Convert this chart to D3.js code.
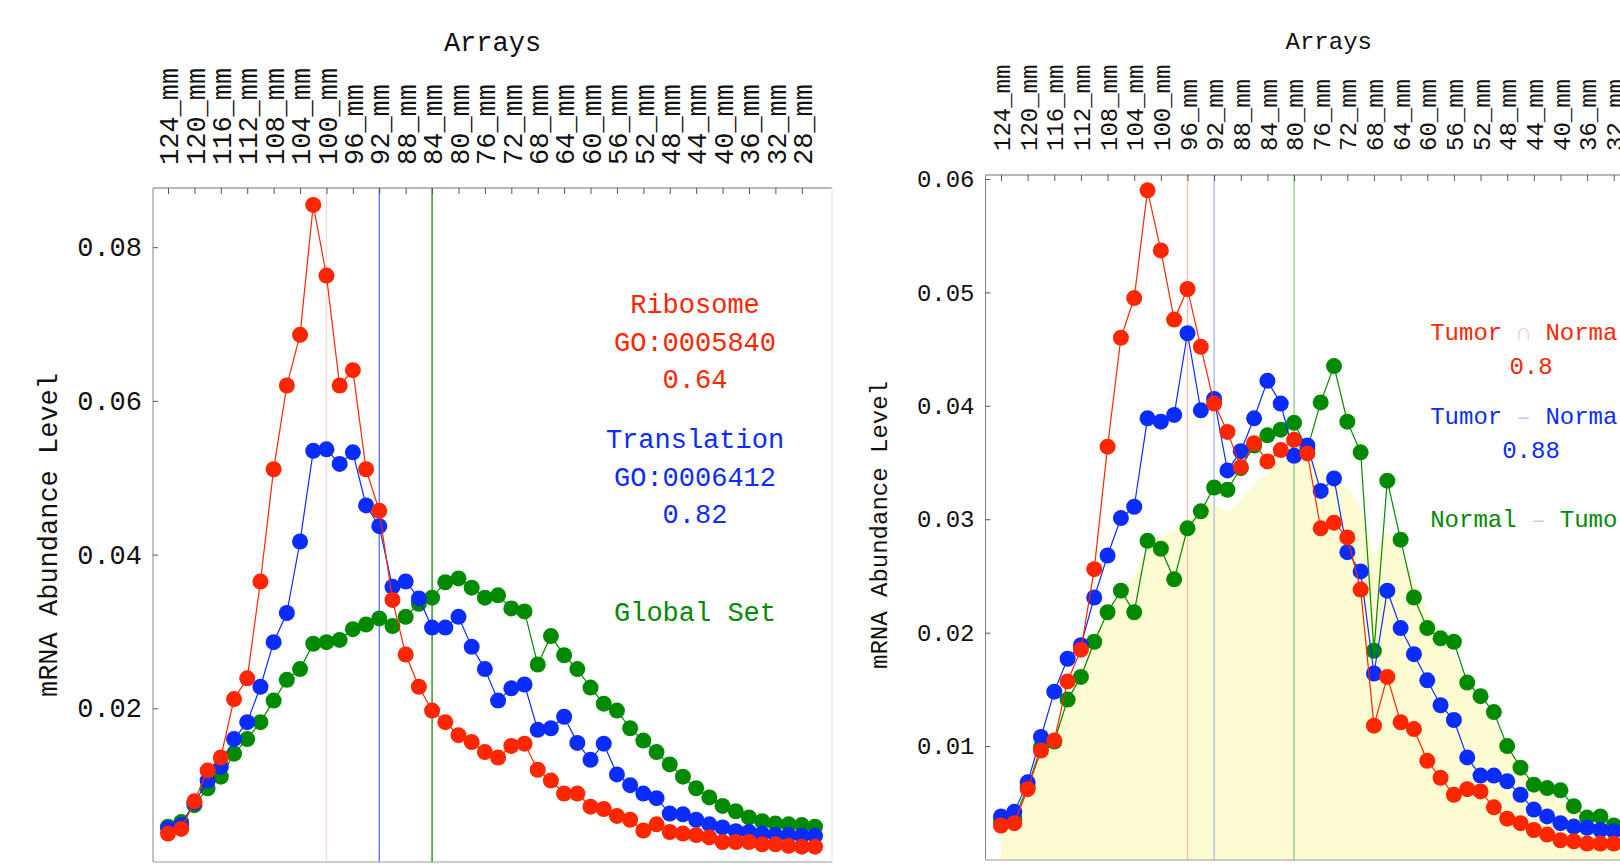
<!DOCTYPE html>
<html>
<head>
    <meta charset="utf-8" />
    <title>mRNA Abundance Level by array</title>
    <style>
        html, body {
            margin: 0;
            padding: 0;
            background-color: #fff;
        }
        svg {
            display: block;
            font-family: 'Liberation Mono', 'Courier New', monospace;
        }
    </style>
</head>
<body>
    <div class="canvas"></div>
    <script src="https://d3js.org/d3.v7.min.js"></script>
    <script>
        // arrays, one point every 2 mm, labelled every 4 mm
        var categories = ["124_mm","122_mm","120_mm","118_mm","116_mm","114_mm","112_mm","110_mm","108_mm","106_mm",
                          "104_mm","102_mm","100_mm","98_mm","96_mm","94_mm","92_mm","90_mm","88_mm","86_mm",
                          "84_mm","82_mm","80_mm","78_mm","76_mm","74_mm","72_mm","70_mm","68_mm","66_mm",
                          "64_mm","62_mm","60_mm","58_mm","56_mm","54_mm","52_mm","50_mm","48_mm","46_mm",
                          "44_mm","42_mm","40_mm","38_mm","36_mm","34_mm","32_mm","30_mm","28_mm","26_mm"];
        var tickLabels = ["124_mm","120_mm","116_mm","112_mm","108_mm","104_mm","100_mm","96_mm","92_mm","88_mm",
                          "84_mm","80_mm","76_mm","72_mm","68_mm","64_mm","60_mm","56_mm","52_mm","48_mm",
                          "44_mm","40_mm","36_mm","32_mm","28_mm"];

        // left chart: Ribosome / Translation / Global Set
        var ribosome = [0.0037,0.0043,0.0079,0.0119,0.0136,0.0212,0.0239,0.0365,0.0511,0.0620,
                        0.0686,0.0855,0.0763,0.0620,0.0640,0.0511,0.0457,0.0341,0.0270,0.0228,
                        0.0197,0.0182,0.0165,0.0156,0.0143,0.0136,0.0151,0.0154,0.0120,0.0106,
                        0.0089,0.0089,0.0072,0.0069,0.0060,0.0055,0.0041,0.0049,0.0039,0.0037,
                        0.0035,0.0032,0.0026,0.0026,0.0026,0.0023,0.0023,0.0021,0.0020,0.0020];
        var translation = [0.0044,0.0048,0.0077,0.0106,0.0124,0.0160,0.0182,0.0228,0.0286,0.0324,
                           0.0417,0.0535,0.0537,0.0518,0.0533,0.0464,0.0437,0.0358,0.0365,0.0343,
                           0.0305,0.0305,0.0319,0.0280,0.0251,0.0210,0.0226,0.0231,0.0172,0.0174,
                           0.0189,0.0155,0.0133,0.0154,0.0114,0.0100,0.0089,0.0083,0.0063,0.0062,
                           0.0055,0.0049,0.0045,0.0040,0.0039,0.0037,0.0035,0.0035,0.0034,0.0034];
        var globalSet = [0.0046,0.0052,0.0074,0.0096,0.0111,0.0141,0.0160,0.0182,0.0210,0.0237,
                         0.0251,0.0284,0.0286,0.0289,0.0303,0.0309,0.0317,0.0307,0.0319,0.0336,
                         0.0344,0.0364,0.0369,0.0357,0.0344,0.0347,0.0330,0.0326,0.0257,0.0294,
                         0.0269,0.0251,0.0227,0.0206,0.0197,0.0174,0.0158,0.0143,0.0127,0.0111,
                         0.0096,0.0084,0.0073,0.0066,0.0058,0.0053,0.0050,0.0049,0.0048,0.0046];
        var leftMeans = ["100_mm", "92_mm", "84_mm"];
        var leftLegend = [["Ribosome", "GO:0005840", "0.64"], ["Translation", "GO:0006412", "0.82"], ["Global Set"]];

        // right chart: Tumor ∩ Normal / Tumor – Normal / Normal – Tumor, shaded global set
        var both = [0.0030,0.0032,0.0062,0.0096,0.0105,0.0157,0.0185,0.0256,0.0364,0.0460,
                    0.0495,0.0590,0.0537,0.0476,0.0503,0.0452,0.0402,0.0377,0.0346,0.0367,
                    0.0351,0.0361,0.0370,0.0358,0.0292,0.0297,0.0284,0.0238,0.0118,0.0161,
                    0.0121,0.0115,0.0087,0.0072,0.0057,0.0062,0.0060,0.0046,0.0036,0.0032,
                    0.0026,0.0022,0.0017,0.0016,0.0014,0.0014,0.0014];
        var tumorOnly = [0.0038,0.0042,0.0068,0.0108,0.0148,0.0177,0.0189,0.0231,0.0268,0.0301,
                         0.0311,0.0389,0.0386,0.0392,0.0464,0.0396,0.0406,0.0343,0.0360,0.0389,
                         0.0422,0.0402,0.0356,0.0365,0.0325,0.0336,0.0271,0.0254,0.0164,0.0237,
                         0.0204,0.0181,0.0158,0.0136,0.0123,0.0090,0.0074,0.0074,0.0069,0.0057,
                         0.0044,0.0038,0.0032,0.0029,0.0028,0.0026,0.0025];
        var normalOnly = [0.0033,0.0036,0.0064,0.0099,0.0104,0.0141,0.0161,0.0192,0.0218,0.0237,
                          0.0218,0.0281,0.0274,0.0247,0.0292,0.0307,0.0328,0.0326,0.0345,0.0365,
                          0.0374,0.0379,0.0385,0.0362,0.0403,0.0435,0.0386,0.0359,0.0184,0.0334,
                          0.0282,0.0231,0.0204,0.0195,0.0192,0.0156,0.0144,0.0130,0.0100,0.0081,
                          0.0066,0.0063,0.0061,0.0047,0.0037,0.0038,0.0030];
        var shaded = [0.0035,0.0045,0.0068,0.0095,0.0115,0.0140,0.0165,0.0195,0.0220,0.0235,
                      0.0250,0.0278,0.0285,0.0290,0.0298,0.0312,0.0314,0.0306,0.0317,0.0330,
                      0.0341,0.0352,0.0355,0.0352,0.0343,0.0332,0.0327,0.0310,0.0268,0.0290,
                      0.0272,0.0245,0.0220,0.0200,0.0180,0.0160,0.0140,0.0120,0.0100,0.0083,
                      0.0068,0.0060,0.0052,0.0046,0.0040,0.0036,0.0033,0.0031];
        var rightMeans = ["96_mm", "92_mm", "80_mm"];
        var rightLegend = [["Tumor ∩ Normal", "0.8"], ["Tumor – Normal", "0.88"], ["Normal – Tumor"]];

        var leftTicks = [0.02, 0.04, 0.06, 0.08];
        var rightTicks = [0.01, 0.02, 0.03, 0.04, 0.05, 0.06];

        var colors = ["#ff2600", "#0a2cff", "#008a00"];

        var width = 1620, height = 867;
        var svg = d3.select(".canvas").append("svg")
                    .attr("width", width)
                    .attr("height", height);

        var panels = [
            {
                left: 153, right: 832, top: 188, bottom: 862,
                xRange: [168, 815], yDomain: [0, 0.0877], yRange: [862, 188],
                font: 27, r: 8, labelGap: 23, titleY: 51, yTitleX: 57, yTitleY: 535,
                series: [globalSet, translation, ribosome],
                means: leftMeans, meanColors: ["#ffd8d8", "#5d70ff", "#0c8c0c"],
                yTicks: leftTicks, legend: leftLegend, legendX: 695,
                legendY: [313, 448, 621], lineStep: 37.5
            },
            {
                left: 985.5, right: 1672, top: 175, bottom: 860,
                xRange: [1001, 1653.7], yDomain: [0, 0.06035], yRange: [859.5, 175],
                font: 24, r: 8, labelGap: 24, titleY: 49, yTitleX: 887, yTitleY: 525,
                series: [normalOnly, tumorOnly, both], fill: shaded,
                means: rightMeans, meanColors: ["#ffbcae", "#aab6ee", "#88c888"],
                yTicks: rightTicks, legend: rightLegend, legendX: 1531,
                legendY: [340, 424, 527], lineStep: 33.5
            }
        ];

        panels.forEach(function(p) {
            var x = d3.scalePoint().domain(categories).range(p.xRange);
            var y = d3.scaleLinear().domain(p.yDomain).range(p.yRange);
            var g = svg.append("g");

            // shaded reference set
            if (p.fill) {
                var area = d3.area()
                    .x(function(d, i) { return x(categories[i]); })
                    .y0(p.bottom)
                    .y1(function(d) { return y(d); });
                g.append("path")
                    .datum(p.fill)
                    .attr("d", area)
                    .attr("fill", "#fcfbd2");
            }

            // mean position lines
            g.selectAll(".mean")
                .data(p.means)
                .join("line")
                .attr("x1", function(d) { return x(d); })
                .attr("x2", function(d) { return x(d); })
                .attr("y1", p.top)
                .attr("y2", p.bottom)
                .attr("stroke", function(d, i) { return p.meanColors[i]; })
                .attr("stroke-width", 1.3);

            // frame
            g.append("line").attr("x1", p.left).attr("x2", p.right).attr("y1", p.top).attr("y2", p.top)
                .attr("stroke", "#707070");
            g.append("line").attr("x1", p.left).attr("x2", p.left).attr("y1", p.top).attr("y2", p.bottom)
                .attr("stroke", "#858585");
            g.append("line").attr("x1", p.left).attr("x2", p.right).attr("y1", p.bottom).attr("y2", p.bottom)
                .attr("stroke", "#9a9a9a");
            g.append("line").attr("x1", p.right).attr("x2", p.right).attr("y1", p.top).attr("y2", p.bottom)
                .attr("stroke", "#dddddd");

            // top axis with vertical labels
            var top = g.append("g")
                .attr("transform", "translate(0," + p.top + ")")
                .call(d3.axisTop(x).tickValues(tickLabels).tickSize(-6).tickPadding(p.labelGap));
            top.select(".domain").remove();
            top.selectAll(".tick line").attr("stroke", "#555");
            top.selectAll(".tick text")
                .attr("font-family", "'Liberation Mono', 'Courier New', monospace")
                .attr("font-size", p.font)
                .attr("fill", "#111")
                .attr("text-anchor", "start")
                .attr("transform", "rotate(-90)")
                .attr("x", p.labelGap)
                .attr("y", 0)
                .attr("dy", "0.36em");

            svg.append("text")
                .attr("x", (p.left + p.right) / 2 - (p.right > width ? 0 : 0))
                .attr("y", p.titleY)
                .attr("text-anchor", "middle")
                .attr("font-size", p.font)
                .attr("fill", "#111")
                .text("Arrays");

            // left axis
            var left = g.append("g")
                .attr("transform", "translate(" + p.left + ",0)")
                .call(d3.axisLeft(y).tickValues(p.yTicks).tickFormat(d3.format(".2f")).tickSize(-5).tickPadding(11));
            left.select(".domain").remove();
            left.selectAll(".tick line").attr("stroke", "#555");
            left.selectAll(".tick text")
                .attr("font-family", "'Liberation Mono', 'Courier New', monospace")
                .attr("font-size", p.font)
                .attr("fill", "#111");

            svg.append("text")
                .attr("transform", "translate(" + p.yTitleX + "," + p.yTitleY + ") rotate(-90)")
                .attr("text-anchor", "middle")
                .attr("font-size", p.font)
                .attr("fill", "#111")
                .text("mRNA Abundance Level");

            // series: line + dots
            var line = d3.line()
                .x(function(d, i) { return x(categories[i]); })
                .y(function(d) { return y(d); });

            p.series.forEach(function(s, k) {
                var c = colors[2 - k];
                g.append("path")
                    .datum(s)
                    .attr("d", line)
                    .attr("fill", "none")
                    .attr("stroke", c)
                    .attr("stroke-width", 1.2);
                g.append("g").selectAll("circle")
                    .data(s)
                    .join("circle")
                    .attr("cx", function(d, i) { return x(categories[i]); })
                    .attr("cy", function(d) { return y(d); })
                    .attr("r", p.r)
                    .attr("fill", c);
            });

            // legend
            p.legend.forEach(function(lines, k) {
                lines.forEach(function(str, j) {
                    var t = svg.append("text")
                        .attr("x", p.legendX)
                        .attr("y", p.legendY[k] + j * p.lineStep)
                        .attr("text-anchor", "middle")
                        .attr("font-size", p.font)
                        .attr("fill", colors[k])
                        .style("white-space", "pre");
                    t.selectAll("tspan")
                        .data(str.split(/([∩–])/))
                        .join("tspan")
                        .attr("fill-opacity", function(d) { return /[∩–]/.test(d) ? 0.3 : 1; })
                        .text(function(d) { return d; });
                });
            });
        });
    </script>
</body>
</html>
